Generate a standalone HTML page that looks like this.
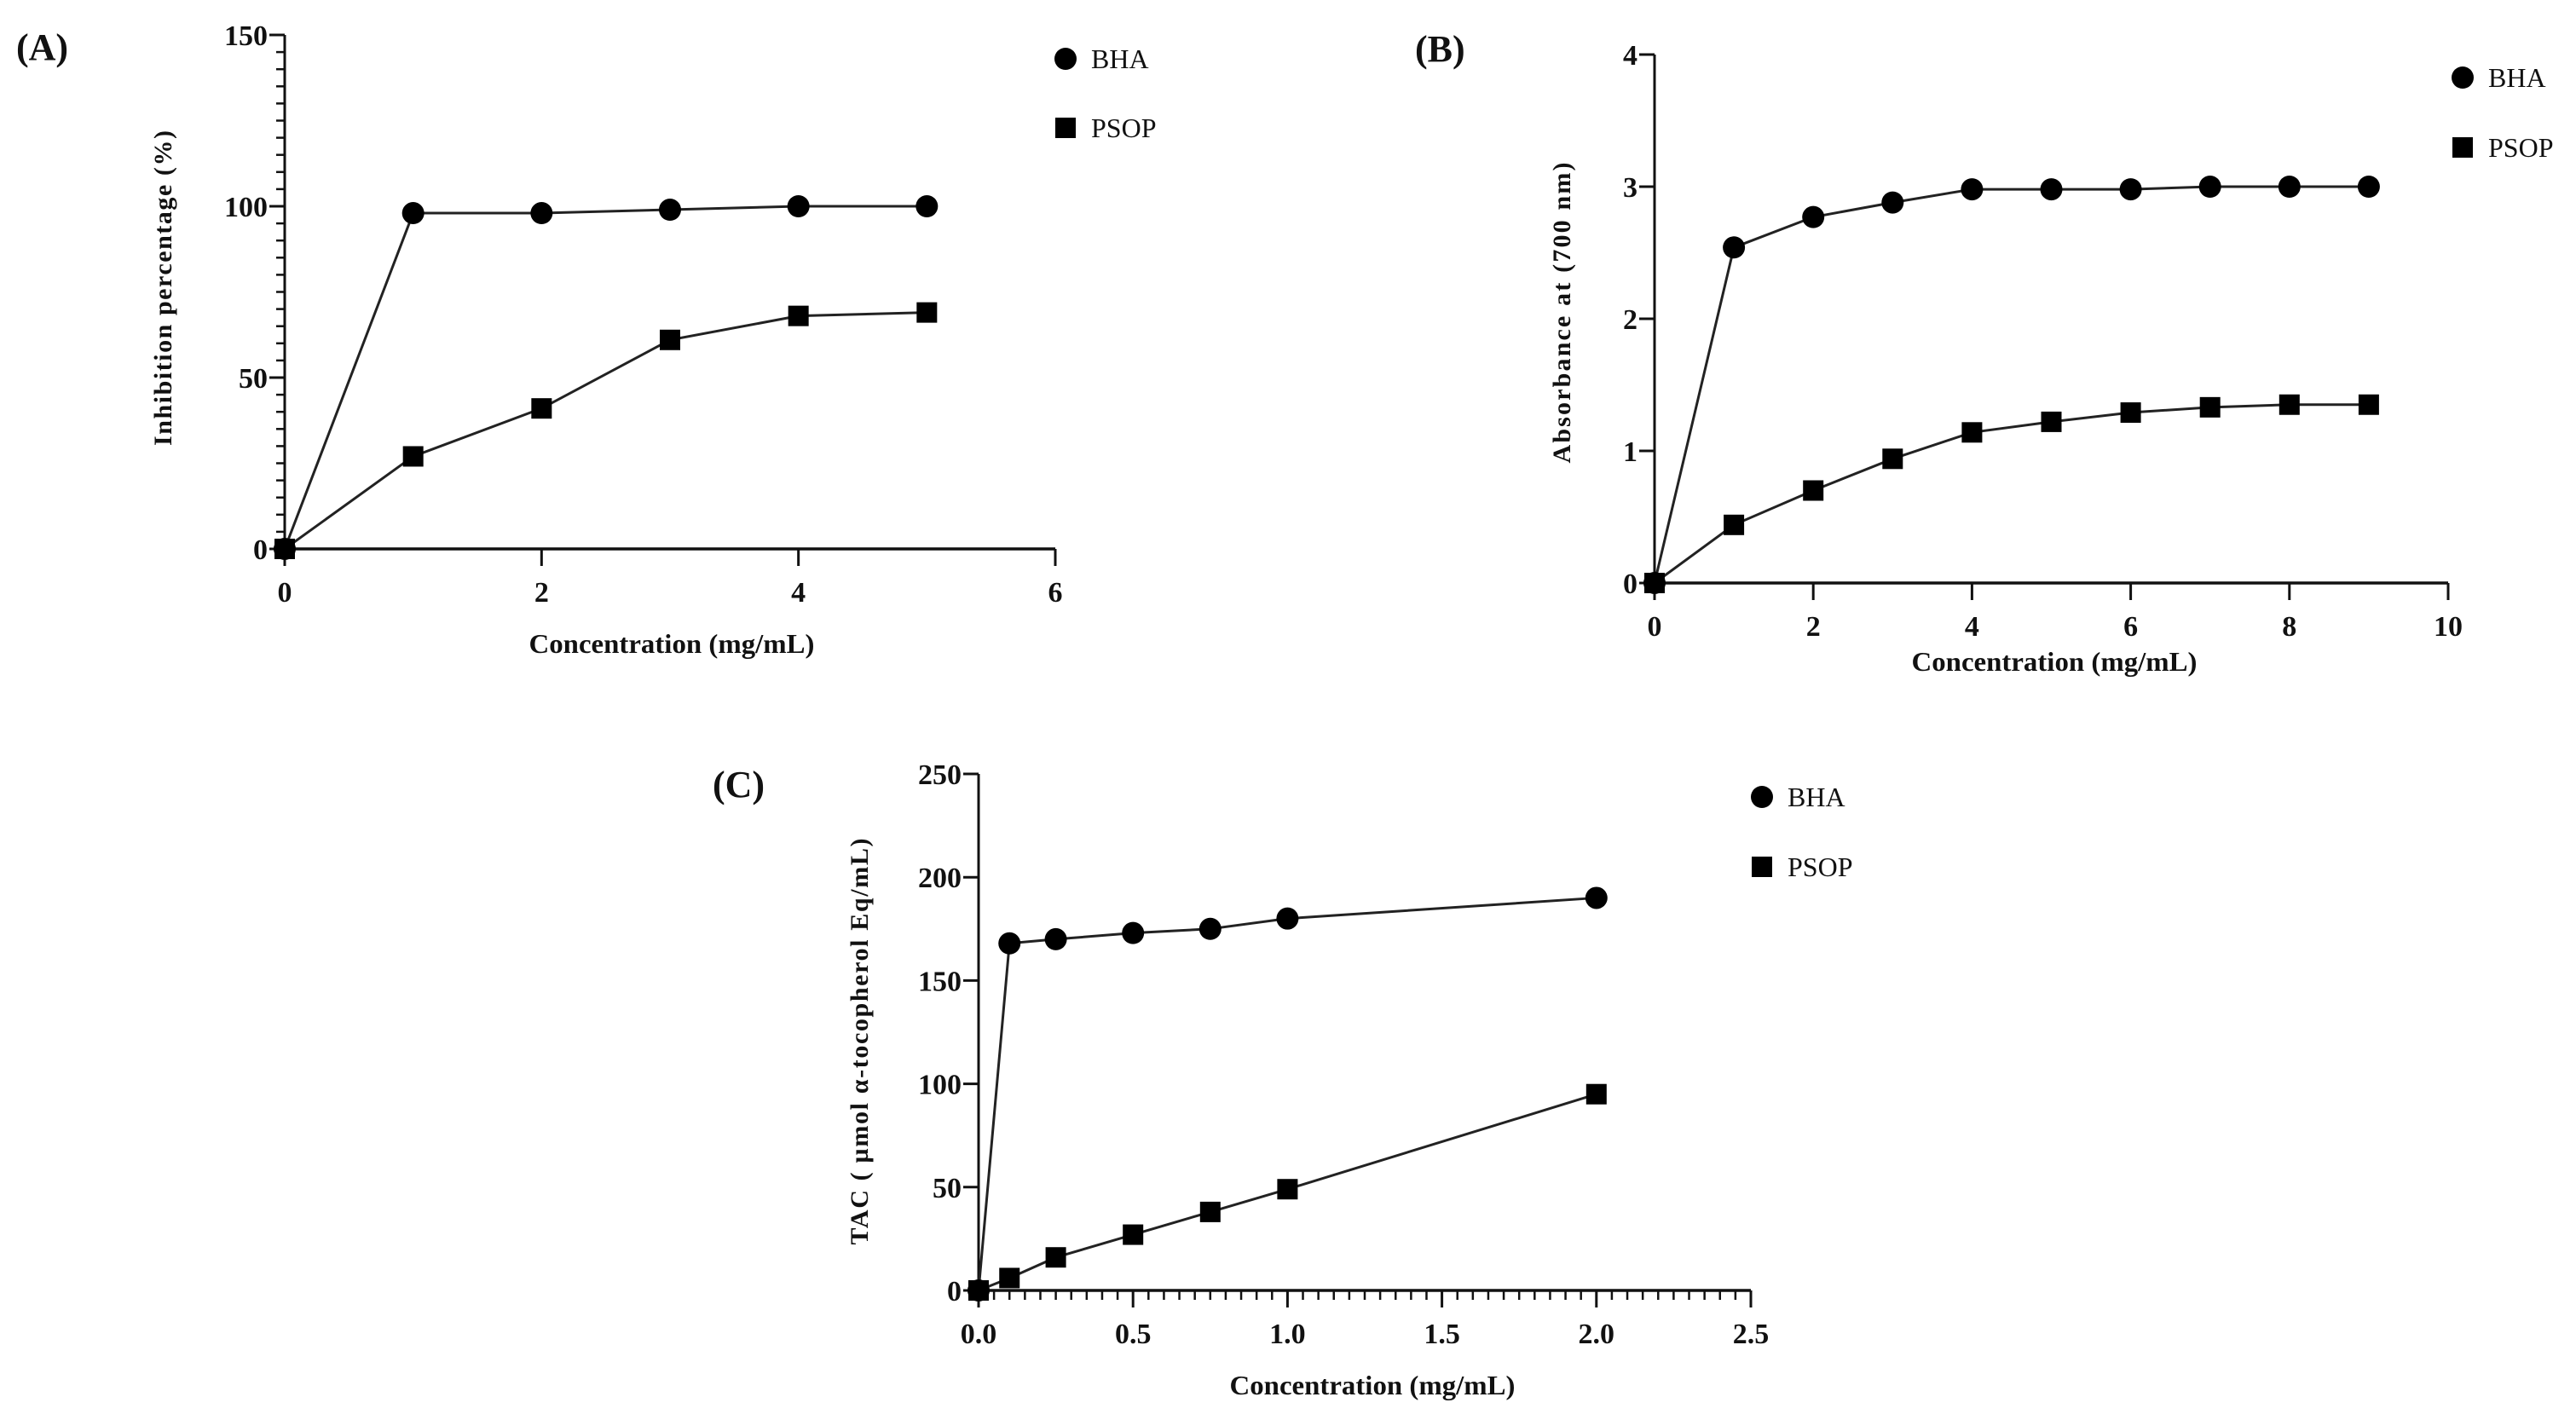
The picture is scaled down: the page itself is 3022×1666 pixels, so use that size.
<!DOCTYPE html>
<html><head><meta charset="utf-8"><style>
html,body{margin:0;padding:0;background:#fff}
svg{display:block}
text{font-family:"Liberation Serif",serif;fill:#111}
</style></head><body>
<svg id="fig" width="3022" height="1666" viewBox="0 0 3022 1666" xmlns="http://www.w3.org/2000/svg"></svg>
<script>
// Panel A data
const aX = [0, 1, 2, 3, 4, 5];
const aBHA = [0, 98, 98, 99, 100, 100];
const aPSOP = [0, 27, 41, 61, 68, 69];
const aXTicks = [0, 2, 4, 6];
const aYTicks = [0, 50, 100, 150];
// Panel B data
const bX = [0, 1, 2, 3, 4, 5, 6, 7, 8, 9];
const bBHA = [0, 2.54, 2.77, 2.88, 2.98, 2.98, 2.98, 3.0, 3.0, 3.0];
const bPSOP = [0, 0.44, 0.70, 0.94, 1.14, 1.22, 1.29, 1.33, 1.35, 1.35];
const bXTicks = [0, 2, 4, 6, 8, 10];
const bYTicks = [0, 1, 2, 3, 4];
// Panel C data
const cX = [0, 0.1, 0.25, 0.5, 0.75, 1, 2];
const cBHA = [0, 168, 170, 173, 175, 180, 190];
const cPSOP = [0, 6, 16, 27, 38, 49, 95];
const cXTicks = [0, 0.5, 1.0, 1.5, 2.0, 2.5];
const cXLabels = ["0.0", "0.5", "1.0", "1.5", "2.0", "2.5"];
const cYTicks = [0, 50, 100, 150, 200, 250];

const NS = "http://www.w3.org/2000/svg";
const svg = document.getElementById("fig");
function mk(tag, attrs, parent) {
  const e = document.createElementNS(NS, tag);
  for (const k in attrs) e.setAttribute(k, attrs[k]);
  (parent || svg).appendChild(e);
  return e;
}

function panel(cfg) {
  const g = mk("g", {});
  
  
  const sx = v => cfg.x0 + (v - cfg.xmin) / (cfg.xmax - cfg.xmin) * (cfg.x1 - cfg.x0);
  const sy = v => cfg.y0 - (v - cfg.ymin) / (cfg.ymax - cfg.ymin) * (cfg.y0 - cfg.y1);

  // panel label
  const pl = mk("text", {x: cfg.labX, y: cfg.labY, "font-size": 44, "font-weight": "bold"}, g);
  pl.textContent = cfg.label;
  
  

  // axes
  const ya = mk("line", {x1: cfg.x0, y1: cfg.y1, x2: cfg.x0, y2: cfg.y0, stroke: "#111", "stroke-width": 3}, g);
  
  
  const xa = mk("line", {x1: cfg.x0, y1: cfg.y0, x2: cfg.x1, y2: cfg.y0, stroke: "#111", "stroke-width": 3.5}, g);
  
  

  // y minor ticks
  if (cfg.yMinor) {
    for (let v = cfg.ymin; v <= cfg.ymax + 1e-9; v += cfg.yMinor) {
      const t = mk("line", {x1: cfg.x0 - 10, y1: sy(v), x2: cfg.x0, y2: sy(v), stroke: "#111", "stroke-width": 2.5}, g);
      
      
    }
  }
  if (cfg.xMinor) {
    for (let v = cfg.xmin; v <= cfg.xmax + 1e-9; v += cfg.xMinor) {
      const t = mk("line", {x1: sx(v), y1: cfg.y0, x2: sx(v), y2: cfg.y0 + 11, stroke: "#111", "stroke-width": 2.5}, g);
      
      
    }
  }
  cfg.yTicks.forEach(v => {
    const t = mk("line", {x1: cfg.x0 - 18, y1: sy(v), x2: cfg.x0, y2: sy(v), stroke: "#111", "stroke-width": 3}, g);
    
    
    const l = mk("text", {x: cfg.x0 - 20, y: sy(v) + 12, "font-size": 34, "font-weight": "bold", "text-anchor": "end"}, g);
    l.textContent = String(v);
    
    
  });
  cfg.xTicks.forEach((v, i) => {
    const t = mk("line", {x1: sx(v), y1: cfg.y0, x2: sx(v), y2: cfg.y0 + 20, stroke: "#111", "stroke-width": 3}, g);
    
    
    const l = mk("text", {x: sx(v), y: cfg.y0 + 62, "font-size": 34, "font-weight": "bold", "text-anchor": "middle"}, g);
    l.textContent = cfg.xLabels ? cfg.xLabels[i] : String(v);
    
    
  });

  // titles
  const xt = mk("text", {x: cfg.xtX, y: cfg.xtY + 11, "font-size": 32, "font-weight": "bold", "text-anchor": "middle", textLength: 335, lengthAdjust: "spacingAndGlyphs"}, g);
  xt.textContent = "Concentration (mg/mL)";
  
  
  const yt = mk("text", {x: 0, y: 0, "font-size": 30, "font-weight": "bold", "text-anchor": "middle", textLength: cfg.ytLen, lengthAdjust: "spacing", transform: `translate(${cfg.ytX + 10},${cfg.ytY}) rotate(-90)`}, g);
  yt.textContent = cfg.yTitle;
  
  

  // series
  function series(vals, shape, nm) {
    const pts = cfg.xs.map((x, i) => sx(x) + "," + sy(vals[i])).join(" ");
    const pl = mk("polyline", {points: pts, fill: "none", stroke: "#222", "stroke-width": 3}, g);
    
    
    cfg.xs.forEach((x, i) => {
      let m;
      if (shape === "circle") m = mk("circle", {cx: sx(x), cy: sy(vals[i]), r: 13, fill: "#000"}, g);
      else m = mk("rect", {x: sx(x) - 12, y: sy(vals[i]) - 12, width: 24, height: 24, fill: "#000"}, g);
      
      
    });
  }
  series(cfg.bha, "circle", "bha");
  series(cfg.psop, "square", "psop");

  // legend
  const lc = mk("circle", {cx: cfg.legX, cy: cfg.legY1, r: 13, fill: "#000"}, g);
  
  
  const lt1 = mk("text", {x: cfg.legX + 30, y: cfg.legY1 + 11, "font-size": 32}, g);
  lt1.textContent = "BHA";
  
  
  const ls = mk("rect", {x: cfg.legX - 12, y: cfg.legY2 - 12, width: 24, height: 24, fill: "#000"}, g);
  
  
  const lt2 = mk("text", {x: cfg.legX + 30, y: cfg.legY2 + 11, "font-size": 32}, g);
  lt2.textContent = "PSOP";
  
  
}

panel({name: "panel-a", label: "(A)", labX: 19, labY: 70,
  x0: 334, x1: 1238, y0: 644, y1: 41, xmin: 0, xmax: 6, ymin: 0, ymax: 150,
  xs: aX, bha: aBHA, psop: aPSOP, xTicks: aXTicks, yTicks: aYTicks, yMinor: 5,
  xtX: 788, xtY: 755, ytX: 191, ytY: 338, ytLen: 370, yTitle: "Inhibition percentage (%)",
  legX: 1250, legY1: 69, legY2: 150});
panel({name: "panel-b", label: "(B)", labX: 1660, labY: 72,
  x0: 1941, x1: 2872, y0: 684, y1: 64, xmin: 0, xmax: 10, ymin: 0, ymax: 4,
  xs: bX, bha: bBHA, psop: bPSOP, xTicks: bXTicks, yTicks: bYTicks,
  xtX: 2410, xtY: 776, ytX: 1832, ytY: 367, ytLen: 353, yTitle: "Absorbance at (700 nm)",
  legX: 2889, legY1: 91, legY2: 173});
panel({name: "panel-c", label: "(C)", labX: 836, labY: 935,
  x0: 1148, x1: 2054, y0: 1514, y1: 908, xmin: 0, xmax: 2.5, ymin: 0, ymax: 250,
  xs: cX, bha: cBHA, psop: cPSOP, xTicks: cXTicks, xLabels: cXLabels, yTicks: cYTicks, xMinor: 0.05,
  xtX: 1610, xtY: 1625, ytX: 1008, ytY: 1222, ytLen: 477, yTitle: "TAC ( µmol α-tocopherol Eq/mL)",
  legX: 2067, legY1: 935, legY2: 1017});
</script>
</body></html>
